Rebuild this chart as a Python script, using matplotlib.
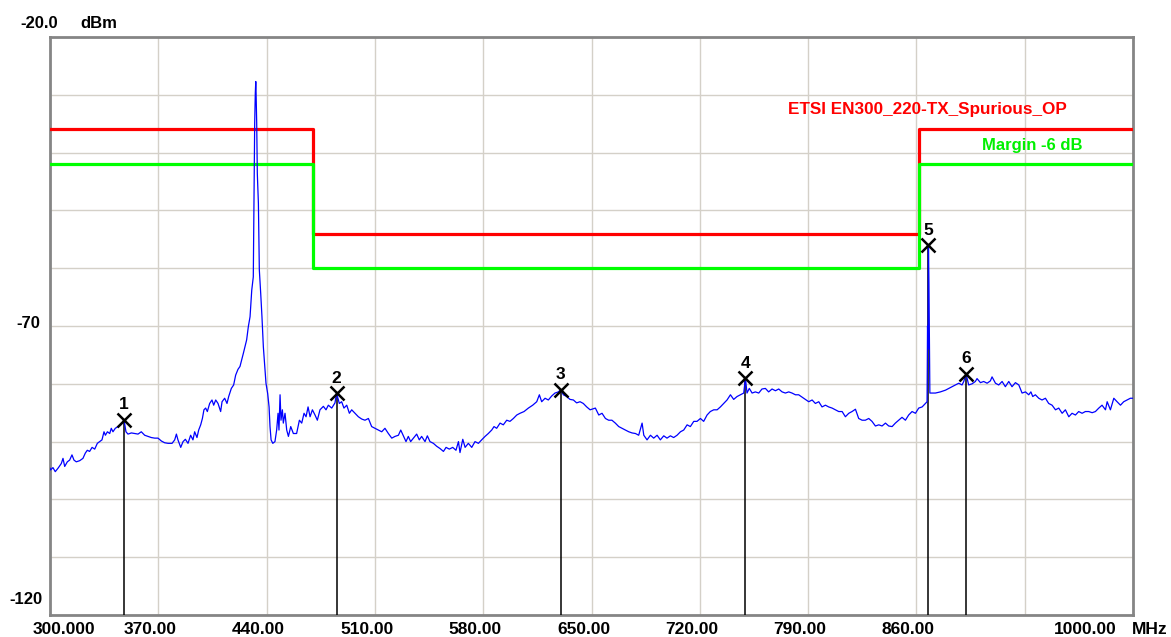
### spectrum analyzer screenshot: spurious emissions vs ETSI EN300 220 limit
import numpy as np
import matplotlib
matplotlib.use("Agg")
import matplotlib.pyplot as plt

plt.rcParams['font.family'] = ['Liberation Sans', 'DejaVu Sans']

### trace (MHz, dBm)
trace_freq = [300.0, 300.4, 301.9, 303.4, 305.2, 307.3, 308.4, 309.5, 311.2, 312.7, 314.2, 315.5, 317.0, 319.2,
              321.3, 322.8, 324.1, 325.6, 327.2, 328.9, 330.6, 332.1, 333.6, 334.9, 335.8, 337.1, 338.6, 339.6,
              340.7, 342.2, 344.0, 345.7, 347.0, 347.8, 349.1, 350.4, 352.6, 354.7, 356.9, 359.0, 361.2, 363.4,
              365.5, 367.7, 369.8, 372.0, 374.1, 376.3, 378.9, 380.6, 381.7, 382.7, 384.5, 386.0, 387.5, 389.2,
              390.9, 392.4, 393.5, 395.0, 396.1, 397.4, 398.5, 399.5, 400.6, 401.7, 403.2, 404.7, 405.8, 407.1,
              408.6, 410.3, 411.2, 412.9, 414.4, 415.5, 417.2, 418.7, 420.0, 421.5, 422.8, 425.0, 427.1, 428.2,
              429.3, 430.4, 431.4, 431.9, 432.3, 432.7, 433.0, 433.2, 433.6, 434.0, 434.7, 435.3, 436.2, 437.0,
              437.9, 438.8, 439.6, 440.7, 441.6, 442.2, 442.9, 444.0, 445.4, 446.5, 447.4, 448.0, 448.7, 449.3,
              450.2, 450.8, 451.9, 453.0, 454.1, 455.6, 457.3, 459.4, 461.2, 462.7, 464.2, 465.5, 466.8, 468.1,
              469.6, 471.3, 472.8, 474.5, 476.7, 478.4, 479.9, 482.1, 484.2, 485.2, 487.0, 488.5, 490.0, 491.8,
              493.5, 495.0, 497.2, 499.3, 501.5, 503.6, 505.8, 507.9, 510.1, 512.2, 514.4, 516.5, 518.7, 520.9,
              523.0, 525.2, 526.7, 528.4, 530.1, 531.6, 533.1, 534.9, 537.0, 538.7, 540.2, 542.4, 543.9, 545.6,
              547.8, 549.9, 552.1, 554.3, 556.0, 558.1, 560.3, 562.4, 564.0, 565.0, 566.8, 568.3, 570.4, 572.6,
              574.7, 576.9, 579.0, 581.2, 583.3, 585.5, 587.0, 588.7, 590.9, 593.0, 595.2, 597.3, 599.5, 601.7,
              603.8, 606.4, 609.2, 612.0, 614.6, 616.3, 617.8, 620.0, 622.1, 624.3, 626.4, 628.6, 630.1, 631.8,
              634.0, 636.1, 638.3, 640.4, 642.6, 644.7, 646.9, 649.1, 652.5, 654.7, 656.8, 659.0, 661.1, 663.2,
              665.4, 667.6, 669.7, 671.9, 674.1, 676.2, 678.4, 680.5, 682.7, 683.8, 685.9, 688.1, 690.2, 692.4,
              694.5, 696.7, 698.8, 701.0, 703.1, 705.3, 707.5, 709.6, 711.8, 713.9, 716.1, 718.2, 720.4, 722.5,
              724.7, 726.8, 729.0, 731.2, 733.3, 735.5, 737.6, 739.8, 741.9, 744.1, 746.2, 748.4, 749.5, 750.5,
              752.0, 753.8, 755.9, 758.1, 760.2, 762.4, 764.5, 766.7, 768.9, 771.0, 773.2, 775.3, 777.5, 779.6,
              781.8, 783.9, 786.1, 788.3, 790.4, 792.6, 794.7, 796.9, 799.0, 801.2, 803.3, 805.5, 807.6, 809.8,
              812.0, 814.1, 816.3, 818.4, 820.6, 822.7, 824.9, 827.0, 829.2, 831.3, 833.5, 835.7, 837.8, 840.0,
              842.1, 844.3, 846.4, 848.6, 850.7, 852.9, 855.0, 857.2, 859.4, 861.5, 863.7, 865.8, 866.9, 867.2,
              867.5, 867.8, 868.1, 868.4, 868.7, 870.1, 872.3, 875.5, 878.8, 880.9, 883.1, 885.2, 887.4, 889.5,
              890.6, 892.1, 893.8, 896.0, 898.1, 899.2, 901.4, 903.5, 905.7, 907.8, 908.9, 911.1, 913.2, 915.4,
              917.5, 919.7, 921.8, 924.0, 926.2, 928.3, 930.5, 932.6, 934.0, 935.2, 936.9, 939.1, 941.2, 943.4,
              945.5, 947.7, 949.9, 952.0, 954.2, 956.3, 958.5, 960.6, 962.8, 964.9, 967.1, 969.2, 971.4, 973.6,
              975.7, 977.9, 980.0, 982.2, 983.3, 985.4, 987.6, 989.7, 991.9, 994.0, 996.2, 998.3, 1000.0]
trace_dbm = [-94.6, -94.9, -94.5, -95.2, -94.6, -93.8, -92.9, -94.3, -93.5, -93.2, -92.3, -93.2, -93.5, -93.3,
             -92.9, -92.0, -91.5, -91.7, -91.0, -91.3, -90.3, -90.0, -89.7, -88.3, -88.9, -88.3, -88.6, -87.7,
             -88.3, -87.7, -87.4, -87.1, -86.7, -86.2, -88.3, -88.7, -88.5, -88.6, -88.7, -88.3, -88.9, -89.1,
             -89.3, -89.4, -89.4, -89.9, -90.2, -90.3, -90.3, -89.7, -88.7, -89.7, -91.0, -90.0, -89.6, -90.3,
             -88.9, -89.7, -88.3, -89.3, -88.0, -87.1, -86.0, -84.5, -84.2, -84.8, -83.4, -82.8, -83.7, -82.8,
             -83.4, -84.8, -83.1, -82.5, -83.4, -82.2, -80.8, -80.2, -78.5, -77.5, -77.0, -74.7, -72.4, -70.1,
             -68.4, -63.8, -61.5, -47.1, -34.9, -29.7, -27.7, -29.7, -34.9, -43.6, -48.8, -60.3, -64.4, -68.4,
             -73.6, -77.0, -79.9, -81.7, -84.0, -87.4, -89.7, -90.3, -90.0, -88.0, -85.1, -88.0, -81.9, -86.3,
             -84.5, -86.8, -85.1, -88.0, -89.1, -87.4, -88.6, -88.6, -86.3, -86.8, -85.1, -85.7, -84.0, -85.7,
             -84.5, -85.4, -86.3, -84.5, -83.9, -84.5, -83.7, -84.2, -83.3, -81.6, -83.4, -83.1, -84.2, -83.7,
             -85.1, -84.5, -85.1, -85.7, -86.1, -86.3, -86.0, -87.4, -87.7, -88.0, -88.3, -87.7, -88.6, -89.4,
             -89.1, -88.9, -88.0, -89.0, -90.0, -89.1, -90.0, -89.4, -88.7, -89.7, -89.1, -90.0, -89.0, -90.0,
             -90.3, -90.8, -91.2, -91.7, -91.0, -91.3, -91.0, -91.5, -90.0, -91.9, -89.6, -91.0, -90.3, -91.0,
             -90.0, -90.3, -89.7, -89.1, -88.6, -88.0, -87.4, -87.7, -86.8, -87.1, -86.3, -86.5, -86.0, -85.4,
             -85.1, -84.8, -84.2, -83.7, -83.1, -81.9, -83.1, -82.5, -82.8, -82.1, -81.6, -81.4, -81.0, -81.9,
             -82.2, -82.7, -82.8, -83.3, -83.1, -83.4, -84.0, -84.5, -84.2, -85.4, -85.1, -86.0, -86.3, -86.3,
             -86.8, -87.4, -87.7, -88.0, -88.3, -88.5, -88.6, -88.9, -86.8, -88.9, -89.7, -88.9, -89.4, -88.9,
             -89.7, -89.0, -89.4, -89.0, -89.3, -88.9, -88.3, -88.0, -87.1, -87.4, -86.5, -86.5, -86.0, -86.5,
             -85.4, -84.8, -84.5, -84.5, -84.0, -83.4, -82.8, -81.9, -82.7, -82.2, -81.9, -81.6, -79.0, -81.6,
             -80.8, -81.6, -81.4, -81.6, -80.9, -80.8, -81.4, -80.9, -81.2, -80.9, -81.4, -81.6, -81.4, -81.6,
             -81.9, -81.9, -82.3, -82.7, -83.1, -82.8, -83.4, -83.1, -84.0, -83.7, -84.0, -84.2, -84.5, -84.8,
             -84.8, -85.7, -85.1, -84.8, -84.4, -86.0, -86.3, -86.3, -86.0, -86.5, -87.3, -87.1, -87.3, -86.8,
             -87.3, -87.4, -86.8, -86.3, -85.8, -86.3, -85.4, -84.8, -85.1, -84.2, -84.0, -83.4, -83.1, -70.0,
             -74.0, -56.0, -62.5, -72.0, -81.6, -81.6, -81.6, -81.4, -81.1, -80.8, -80.5, -80.2, -79.9, -80.2,
             -79.6, -78.3, -80.2, -80.0, -79.6, -79.1, -79.8, -79.6, -79.9, -79.5, -78.8, -79.9, -80.2, -79.6,
             -80.5, -79.6, -80.5, -79.8, -80.2, -81.6, -81.4, -81.9, -81.4, -82.2, -81.9, -82.5, -82.8, -82.5,
             -83.4, -83.7, -84.5, -84.2, -85.1, -84.5, -85.7, -85.1, -85.4, -84.8, -85.1, -84.8, -84.8, -85.0,
             -84.8, -84.2, -83.7, -84.5, -83.1, -84.5, -82.5, -83.1, -83.7, -83.1, -82.8, -82.5, -82.5]

### limit line + margin
limit_freq = [300, 470, 470, 862, 862, 1000]
limit_dbm = [-36, -36, -54, -54, -36, -36]
margin_db = -6
limit_name = "ETSI EN300_220-TX_Spurious_OP"
margin_name = "Margin -6 dB"

### markers
mk_num = ["1", "2", "3", "4", "5", "6"]
mk_freq = [347.8, 485.2, 630.1, 749.5, 867.8, 892.1]
mk_dbm = [-86.2, -81.6, -81.0, -79.0, -56.0, -78.3]

x_ticks = [300, 370, 440, 510, 580, 650, 720, 790, 860, 930, 1000]
x_labels = ["300.000", "370.00", "440.00", "510.00", "580.00", "650.00", "720.00", "790.00", "860.00", "", "1000.00"]
y_ticks = np.arange(-120, -19, 10)

fig = plt.figure(figsize=(11.71, 6.37), dpi=100)
ax = fig.add_axes([50/1171, 22/637, 1083/1171, 578/637])
ax.set_xlim(300, 1000)
ax.set_ylim(-120, -20)
ax.set_xticks(x_ticks)
ax.set_yticks(y_ticks)
ax.tick_params(length=0, labelbottom=False, labelleft=False)
ax.grid(True, color='#d4d0c8', lw=1.0)
ax.set_axisbelow(True)
for s in ax.spines.values():
    s.set_color('#858585')
    s.set_linewidth(2)

### limit lines (green drawn over red like the screen)
ax.plot(limit_freq, limit_dbm, color='#ff0000', lw=2.3, zorder=3)
ax.plot(limit_freq, np.array(limit_dbm) + margin_db, color='#00ff00', lw=2.3, zorder=3)
ax.text(867, -32.6, limit_name, color='#ff0000', fontsize=12.3, fontweight='bold', ha='center', va='center')
ax.text(935, -38.7, margin_name, color='#00f000', fontsize=12, fontweight='bold', ha='center', va='center')

### marker stems, then trace
ax.vlines(mk_freq, -120, mk_dbm, colors='black', lw=1.1, zorder=4)
ax.plot(trace_freq, trace_dbm, color='#0000ff', lw=0.9, zorder=5)
ax.plot(mk_freq, mk_dbm, 'x', color='black', ms=9.5, mew=1.8, zorder=6)
for n, f, l in zip(mk_num, mk_freq, mk_dbm):
    ax.annotate(n, xy=(f, l), xytext=(0, 15), textcoords='offset pixels', ha='center', va='center',
                fontsize=12.5, fontweight='bold', zorder=7)

### axis labels in the screen's positions
for i, (t, lab) in enumerate(zip(x_ticks, x_labels)):
    if i == 0:
        ha, dx = 'left', -17
    elif i == len(x_ticks) - 1:
        ha, dx = 'center', -48
    else:
        ha, dx = 'center', -8
    ax.annotate(lab, xy=(t, 0), xycoords=('data', 'axes fraction'), xytext=(dx, -15),
                textcoords='offset pixels', ha=ha, va='center', fontsize=12.5, fontweight='bold')
ax.annotate("MHz", xy=(1000, 0), xycoords=('data', 'axes fraction'), xytext=(-1, -15),
            textcoords='offset pixels', ha='left', va='center', fontsize=12.5, fontweight='bold')

ax.annotate("-20.0", xy=(0, -20), xycoords=('axes fraction', 'data'), xytext=(-30, 14),
            textcoords='offset pixels', ha='left', va='center', fontsize=12, fontweight='bold')
ax.annotate("dBm", xy=(0, -20), xycoords=('axes fraction', 'data'), xytext=(30, 14),
            textcoords='offset pixels', ha='left', va='center', fontsize=12, fontweight='bold')
ax.annotate("-70", xy=(0, -70), xycoords=('axes fraction', 'data'), xytext=(-10, 3),
            textcoords='offset pixels', ha='right', va='center', fontsize=12, fontweight='bold')
ax.annotate("-120", xy=(0, -120), xycoords=('axes fraction', 'data'), xytext=(-7, 16),
            textcoords='offset pixels', ha='right', va='center', fontsize=12, fontweight='bold')

plt.savefig("out.png", dpi=100)
plt.close()
